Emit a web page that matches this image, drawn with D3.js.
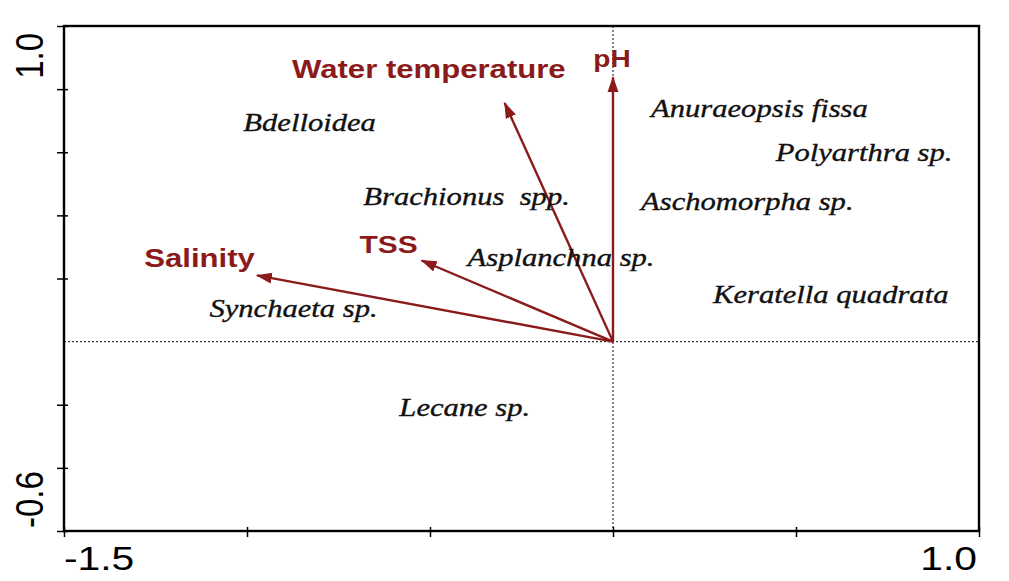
<!DOCTYPE html>
<html>
<head>
<meta charset="utf-8">
<script src="https://cdn.jsdelivr.net/npm/d3@7"></script>
<style>
  body { margin: 0; background: #fff; }
  svg { display: block; }
</style>
</head>
<body>
<div id="chart"></div>
<script>
// biến môi trường (mũi tên)
const envNames = ["Water temperature", "pH", "TSS", "Salinity"];
const envX = [-0.296, 0.0, -0.523, -0.973];
const envY = [0.756, 0.838, 0.257, 0.21];

// loài (nhãn nghiêng)
const speciesNames = ["Bdelloidea", "Brachionus  spp.", "Asplanchna sp.", "Synchaeta sp.", "Lecane sp.",
  "Anuraeopsis fissa", "Polyarthra sp.", "Aschomorpha sp.", "Keratella quadrata"];
const speciesX = [-0.829, -0.400, -0.142, -0.873, -0.405, 0.400, 0.686, 0.367, 0.595];
const speciesY = [0.690, 0.456, 0.265, 0.103, -0.211, 0.735, 0.598, 0.440, 0.148];

// nhãn trục
const xTickLabels = ["-1.5", "1.0"];
const yTickLabels = ["-0.6", "1.0"];

const fullWidth = 1009, fullHeight = 581;
const margin = { top: 26, right: 30, bottom: 50, left: 64 };
const red = "#8b1a1a";
const sx = 1.22; // ảnh gốc bị kéo giãn theo chiều ngang

const svg = d3.select("#chart").append("svg")
  .attr("width", fullWidth)
  .attr("height", fullHeight);

const x = d3.scaleLinear().domain([-1.5, 1.0]).range([margin.left, fullWidth - margin.right]);
const y = d3.scaleLinear().domain([-0.6, 1.0]).range([fullHeight - margin.bottom, margin.top]);

// đường gạch qua gốc toạ độ
svg.append("line")
  .attr("x1", x(-1.5)).attr("x2", x(1.0))
  .attr("y1", y(0)).attr("y2", y(0))
  .attr("stroke", "#333").attr("stroke-width", 1.2).attr("stroke-dasharray", "2,2");
svg.append("line")
  .attr("x1", x(0)).attr("x2", x(0))
  .attr("y1", y(1.0)).attr("y2", y(-0.6))
  .attr("stroke", "#333").attr("stroke-width", 1.2).attr("stroke-dasharray", "2,2");

// trục X
const xAxis = svg.append("g")
  .attr("transform", `translate(0,${y(-0.6)})`)
  .call(d3.axisBottom(x).tickValues([-1.5, -1.0, -0.5, 0, 0.5, 1.0]).tickSize(6).tickFormat(""));
xAxis.selectAll(".tick line").attr("y1", -4).attr("stroke", "#000").attr("stroke-width", 1.5);
xAxis.select(".domain").remove();

// trục Y
const yAxis = svg.append("g")
  .attr("transform", `translate(${x(-1.5)},0)`)
  .call(d3.axisLeft(y).tickValues([-0.6, -0.4, -0.2, 0.2, 0.4, 0.6, 0.8, 1.0]).tickSize(7).tickFormat(""));
yAxis.selectAll(".tick line").attr("x1", 4).attr("stroke", "#000").attr("stroke-width", 1.5);
yAxis.select(".domain").remove();

// khung
svg.append("rect")
  .attr("x", x(-1.5)).attr("y", y(1.0))
  .attr("width", x(1.0) - x(-1.5))
  .attr("height", y(-0.6) - y(1.0))
  .attr("fill", "none").attr("stroke", "#000").attr("stroke-width", 2.4);

// nhãn số trên trục
svg.append("text")
  .attr("transform", `translate(${x(-1.5)},570) scale(1.2,1)`)
  .attr("text-anchor", "start")
  .style("font-family", "Liberation Sans, Arial, sans-serif")
  .style("font-size", "34px")
  .text(xTickLabels[0]);
svg.append("text")
  .attr("transform", `translate(${x(1.0) - 2},570) scale(1.2,1)`)
  .attr("text-anchor", "end")
  .style("font-family", "Liberation Sans, Arial, sans-serif")
  .style("font-size", "34px")
  .text(xTickLabels[1]);
svg.append("text")
  .attr("transform", `translate(43,${y(-0.6) - 3}) scale(1.2,1) rotate(-90)`)
  .attr("text-anchor", "start")
  .style("font-family", "Liberation Sans, Arial, sans-serif")
  .style("font-size", "33px")
  .text(yTickLabels[0]);
svg.append("text")
  .attr("transform", `translate(43,${y(1.0) + 7}) scale(1.2,1) rotate(-90)`)
  .attr("text-anchor", "end")
  .style("font-family", "Liberation Sans, Arial, sans-serif")
  .style("font-size", "33px")
  .text(yTickLabels[1]);

// đầu mũi tên
svg.append("defs").append("marker")
  .attr("id", "head")
  .attr("markerUnits", "userSpaceOnUse")
  .attr("viewBox", "0 -7 16 14")
  .attr("refX", 15).attr("refY", 0)
  .attr("markerWidth", 16).attr("markerHeight", 14)
  .attr("orient", "auto")
  .append("path")
  .attr("d", "M0,-5.5L16,0L0,5.5Z")
  .attr("fill", red);

const envData = envNames.map((n, i) => ({ name: n, x: envX[i], y: envY[i] }));

svg.selectAll(".arrow")
  .data(envData)
  .enter()
  .append("line")
  .attr("class", "arrow")
  .attr("x1", x(0)).attr("y1", y(0))
  .attr("x2", d => x(d.x)).attr("y2", d => y(d.y))
  .attr("stroke", red).attr("stroke-width", 2.4)
  .attr("marker-end", "url(#head)");

// vị trí nhãn so với đầu mũi tên
const labelOffset = {
  "Water temperature": { dx: 61, dy: -25, anchor: "end", size: 25.5 },
  "pH": { dx: -1, dy: -10, anchor: "middle", size: 23 },
  "TSS": { dx: -4, dy: -8, anchor: "end", size: 24.5 },
  "Salinity": { dx: -2, dy: -8, anchor: "end", size: 25.5 }
};

svg.selectAll(".envLabel")
  .data(envData)
  .enter()
  .append("text")
  .attr("class", "envLabel")
  .attr("transform", d => `translate(${x(d.x) + labelOffset[d.name].dx},${y(d.y) + labelOffset[d.name].dy}) scale(${sx},1)`)
  .attr("text-anchor", d => labelOffset[d.name].anchor)
  .style("font-family", "Liberation Sans, Arial, sans-serif")
  .style("font-weight", "bold")
  .style("font-size", d => labelOffset[d.name].size + "px")
  .style("fill", red)
  .text(d => d.name);

// nhãn loài
const speciesData = speciesNames.map((n, i) => ({ name: n, x: speciesX[i], y: speciesY[i] }));

svg.selectAll(".species")
  .data(speciesData)
  .enter()
  .append("text")
  .attr("class", "species")
  .attr("transform", d => `translate(${x(d.x)},${y(d.y)}) scale(1.2,1)`)
  .attr("text-anchor", "middle")
  .attr("dy", "0.3em")
  .style("font-family", "Liberation Serif, Times New Roman, serif")
  .style("font-style", "italic")
  .style("font-size", "25.5px")
  .style("fill", "#111")
  .style("stroke", "#111")
  .style("stroke-width", 0.35)
  .style("white-space", "pre")
  .text(d => d.name);
</script>
</body>
</html>
